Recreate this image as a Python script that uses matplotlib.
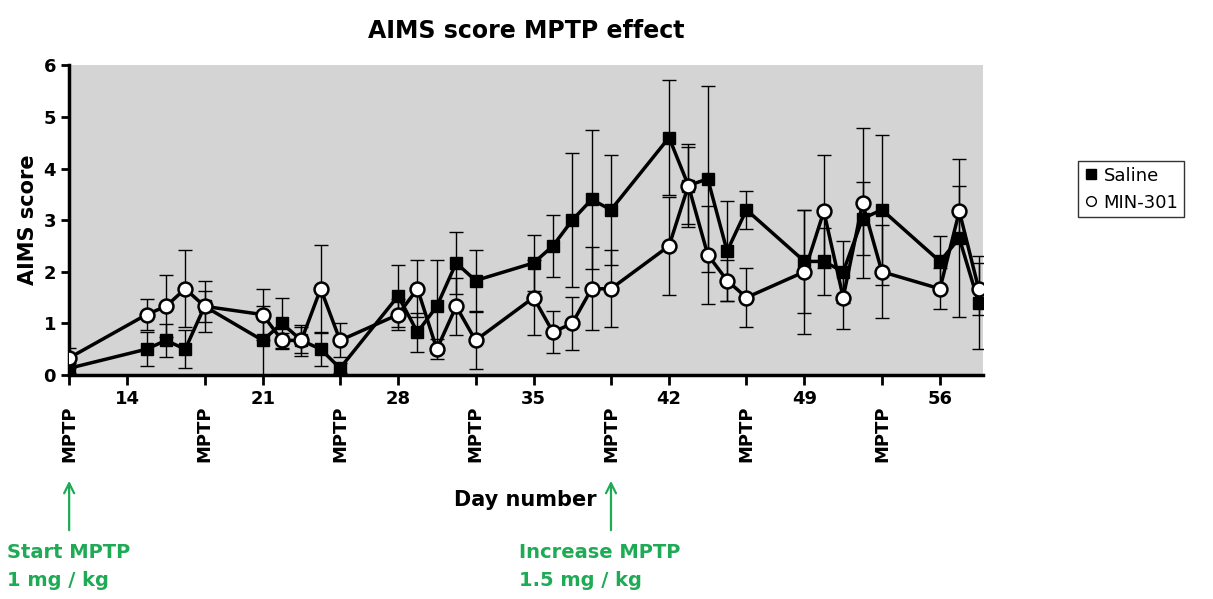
import matplotlib
matplotlib.use("Agg")
import matplotlib.pyplot as plt
from matplotlib.lines import Line2D
from matplotlib.patches import FancyArrowPatch

days = [11, 15, 16, 17, 18, 21, 22, 23, 24, 25, 28, 29, 30, 31, 32,
        35, 36, 37, 38, 39, 42, 43, 44, 45, 46, 49, 50, 51, 52, 53, 56, 57, 58]
saline = [0.13, 0.5, 0.67, 0.5, 1.33, 0.67, 1.0, 0.67, 0.5, 0.13, 1.53, 0.83, 1.33, 2.17, 1.83,
          2.17, 2.5, 3.0, 3.4, 3.2, 4.6, 3.67, 3.8, 2.4, 3.2, 2.2, 2.2, 2.0, 3.03, 3.2, 2.2, 2.65, 1.4]
saline_err = [0.1, 0.33, 0.32, 0.37, 0.3, 0.67, 0.5, 0.25, 0.33, 0.1, 0.6, 0.38, 0.9, 0.6, 0.6,
              0.55, 0.6, 1.3, 1.34, 1.07, 1.11, 0.8, 1.8, 0.97, 0.37, 1.0, 0.65, 0.6, 0.7, 1.45, 0.5, 1.53, 0.9]
min301 = [0.33, 1.17, 1.33, 1.67, 1.33, 1.17, 0.67, 0.67, 1.67, 0.67, 1.17, 1.67, 0.5, 1.33, 0.67,
          1.5, 0.83, 1.0, 1.67, 1.67, 2.5, 3.67, 2.33, 1.83, 1.5, 2.0, 3.17, 1.5, 3.33, 2.0, 1.67, 3.17, 1.67]
min301_err = [0.2, 0.3, 0.6, 0.75, 0.5, 0.5, 0.15, 0.3, 0.85, 0.33, 0.3, 0.55, 0.2, 0.55, 0.55,
              0.73, 0.4, 0.52, 0.8, 0.75, 0.95, 0.75, 0.95, 0.4, 0.57, 1.2, 1.1, 0.6, 1.45, 0.9, 0.4, 0.5, 0.5]

mptp_days = [11, 18, 25, 32, 39, 46, 53]
major_days = [14, 21, 28, 35, 42, 49, 56]
GREEN = "#1faa55"
W, H = 1213, 599

fig = plt.figure(figsize=(W / 100, H / 100), dpi=100)
ax = fig.add_axes([0.057, 0.374, 0.753, 0.517])
ax.set_facecolor("#d4d4d4")

ax.errorbar(days, saline, yerr=saline_err, fmt="none", ecolor="black", elinewidth=1, capsize=5, capthick=1)
ax.errorbar(days, min301, yerr=min301_err, fmt="none", ecolor="black", elinewidth=1, capsize=5, capthick=1)
ax.plot(days, saline, color="black", lw=2.5, marker="s", markersize=9, zorder=3)
ax.plot(days, min301, color="black", lw=2.5, marker="o", markersize=10,
        markerfacecolor="white", markeredgewidth=1.8, zorder=4)

ax.set_xlim(11, 58.2)
ax.set_ylim(0, 6)
ax.set_xticks(major_days)
ax.set_xticks(mptp_days, minor=True)
ax.tick_params(axis="x", which="both", length=7, width=2, labelsize=13)
ax.tick_params(axis="y", length=6, width=2, labelsize=13)
for lab in ax.get_xticklabels() + ax.get_yticklabels():
    lab.set_fontweight("bold")
for s in ["top", "right"]:
    ax.spines[s].set_visible(False)
for s in ["left", "bottom"]:
    ax.spines[s].set_linewidth(2.5)

ax.set_ylabel("AIMS score", fontsize=15, fontweight="bold")
ax.set_title("AIMS score MPTP effect", fontsize=17, fontweight="bold", pad=20)

for d in mptp_days:
    ax.annotate("MPTP", xy=(d, 0), xycoords=("data", "axes fraction"), xytext=(0, -22),
                textcoords="offset points", rotation=90, ha="center", va="top",
                fontsize=13, fontweight="bold")

fig.text(525 / W, 1 - 500 / H, "Day number", ha="center", va="center", fontsize=15, fontweight="bold")

for d, txt, dx in [(11, "Start MPTP\n1 mg / kg", 62), (39, "Increase MPTP\n1.5 mg / kg", 92)]:
    x_fig = ax.transData.transform((d, 0))[0] / W
    fig.add_artist(FancyArrowPatch((x_fig, 1 - 533 / H), (x_fig, 1 - 478 / H),
                   transform=fig.transFigure, arrowstyle="->", mutation_scale=18, color=GREEN, lw=1.6))
    fig.text(x_fig - dx / W, 1 - 566 / H, txt, color=GREEN, fontsize=14, fontweight="bold",
             ha="left", va="center", linespacing=1.6)

handles = [Line2D([], [], ls="none", marker="s", color="black", markersize=7),
           Line2D([], [], ls="none", marker="o", color="black", markerfacecolor="white", markersize=7)]
ax.legend(handles, ["Saline", "MIN-301"], loc="center left", bbox_to_anchor=(1.095, 0.6), fontsize=13,
          frameon=True, fancybox=False, edgecolor="black", handlelength=0.8, handletextpad=0.3, borderpad=0.3)

fig.savefig("out.png", dpi=100)
